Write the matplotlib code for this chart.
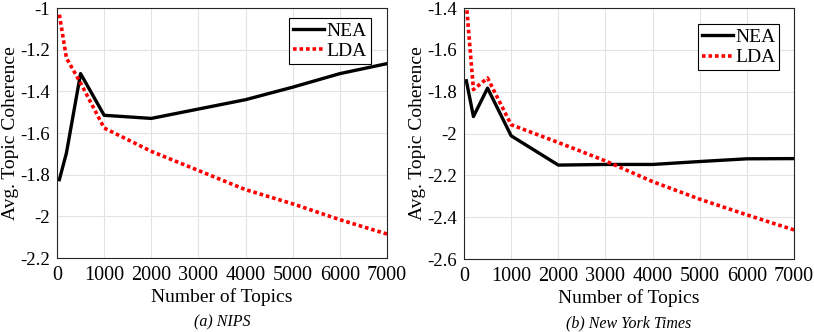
import matplotlib.pyplot as plt

plt.rcParams.update({
    'font.family': ['Liberation Serif', 'DejaVu Serif'],
    'font.size': 11,
})

topics = [50, 200, 500, 1000, 2000, 3000, 4000, 5000, 6000, 7000]

# (a) NIPS
nips_nea = [-1.824, -1.696, -1.315, -1.515, -1.530, -1.485, -1.440, -1.380, -1.315, -1.267]
nips_lda = [-1.032, -1.240, -1.360, -1.576, -1.688, -1.780, -1.872, -1.940, -2.016, -2.085]

# (b) New York Times
nyt_nea = [-1.748, -1.919, -1.783, -2.011, -2.151, -2.148, -2.148, -2.134, -2.121, -2.120]
nyt_lda = [-1.380, -1.790, -1.735, -1.958, -2.043, -2.131, -2.230, -2.314, -2.389, -2.461]

x_ticks = [0, 1000, 2000, 3000, 4000, 5000, 6000, 7000]

fig = plt.figure(figsize=(8.14, 3.32), dpi=100)

panels = [
    # axes rect (figure fractions), series, y range, ticks, caption, legend anchor
    ([57 / 814, 1 - 258 / 332, 330 / 814, 250 / 332], nips_nea, nips_lda,
     (-2.2, -1.0), [-2.2, -2.0, -1.8, -1.6, -1.4, -1.2, -1.0],
     ['-2.2', '-2', '-1.8', '-1.6', '-1.4', '-1.2', '-1'], '(a) NIPS', (0.95, 0.96)),
    ([464 / 814, 1 - 259 / 332, 330 / 814, 251 / 332], nyt_nea, nyt_lda,
     (-2.6, -1.4), [-2.6, -2.4, -2.2, -2.0, -1.8, -1.6, -1.4],
     ['-2.6', '-2.4', '-2.2', '-2', '-1.8', '-1.6', '-1.4'], '(b) New York Times', (0.955, 0.935)),
]

for rect, nea, lda, ylim, yt, ytl, caption, leg_anchor in panels:
    ax = fig.add_axes(rect)
    ax.plot(topics, nea, color='black', linewidth=2.4, label='NEA')
    ax.plot(topics, lda, color='#ff0000', linewidth=2.6, linestyle=(0, (1, 0.8)), label='LDA')
    ax.set_xlim(0, 7000)
    ax.set_ylim(*ylim)
    ax.set_xticks(x_ticks)
    ax.set_yticks(yt)
    ax.set_yticklabels(ytl)
    ax.tick_params(direction='in', length=0, pad=6)
    ax.tick_params(axis='x', labelsize=14.5)
    ax.tick_params(axis='y', labelsize=13.5, pad=5)
    ax.grid(True, color='#e3e3e3', linewidth=0.8)
    ax.set_axisbelow(True)
    for s in ax.spines.values():
        s.set_linewidth(0.8)
        s.set_color('#262626')
    ax.set_xlabel('Number of Topics', fontsize=14, labelpad=2)
    ax.set_ylabel('Avg. Topic Coherence', fontsize=14, labelpad=1)
    ax.text(0.5, -0.256, caption, transform=ax.transAxes, ha='center', va='center',
            fontsize=11.5, style='italic')
    leg = ax.legend(loc='upper right', bbox_to_anchor=leg_anchor, fontsize=14,
                    frameon=True, fancybox=False, handlelength=1.6, handletextpad=0.1,
                    borderpad=0.2, labelspacing=0.15, borderaxespad=0)
    leg.get_frame().set_edgecolor('black')
    leg.get_frame().set_linewidth(0.8)
    leg.get_frame().set_alpha(1)

fig.savefig('out.png', dpi=100, facecolor='white')
